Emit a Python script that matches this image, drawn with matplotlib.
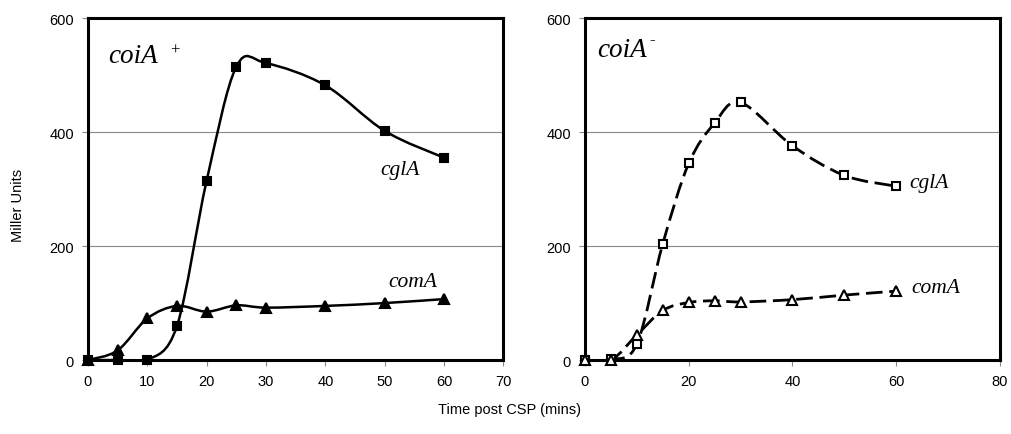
import matplotlib.pyplot as plt
from matplotlib.path import Path
from matplotlib.patches import PathPatch
import numpy as np

# time points (mins)
t = [0, 5, 10, 15, 20, 25, 30, 40, 50, 60]

# coiA+ panel
plus_cgla = [0, 0, 0, 60, 315, 515, 521, 482, 402, 355]
plus_coma = [0, 17, 73, 95, 85, 96, 92, 95, 100, 107]

# coiA- panel
minus_cgla = [0, 1, 28, 204, 345, 416, 452, 376, 324, 305]
minus_coma = [0, 0, 44, 87, 101, 104, 102, 106, 114, 121]

plt.rcParams['font.family'] = ['Liberation Sans', 'DejaVu Sans']
serif = ['Liberation Serif', 'DejaVu Serif']


def smooth_path(x, y):
    # Excel-like smoothed line: cubic bezier through the points
    p = np.column_stack([x, y]).astype(float)
    n = len(p)
    verts = [p[0]]
    codes = [Path.MOVETO]
    for i in range(n - 1):
        p0 = p[i - 1] if i > 0 else p[i]
        p3 = p[i + 2] if i + 2 < n else p[i + 1]
        c1 = p[i] + (p[i + 1] - p0) / 6
        c2 = p[i + 1] - (p3 - p[i]) / 6
        verts += [c1, c2, p[i + 1]]
        codes += [Path.CURVE4] * 3
    return Path(verts, codes)


def draw(ax, x, y, marker, filled, ls, lw):
    patch = PathPatch(smooth_path(x, y), fill=False, edgecolor='black',
                      linewidth=lw, linestyle=ls, zorder=3)
    ax.add_patch(patch)
    ax.plot(x, y, linestyle='none', marker=marker,
            markersize=6 if marker == 's' else 6.5,
            markerfacecolor='black' if filled else 'white',
            markeredgecolor='black', markeredgewidth=1.5,
            clip_on=False, zorder=4)


def style(ax, xmax, xstep):
    ax.set_xlim(0, xmax)
    ax.set_ylim(0, 600)
    ax.set_xticks(np.arange(0, xmax + 1, xstep))
    ax.set_yticks([0, 200, 400, 600])
    ax.yaxis.grid(True, color='#888888', linewidth=0.8)
    ax.set_axisbelow(True)
    for s in ax.spines.values():
        s.set_linewidth(2.2)
        s.set_color('black')
        s.set_zorder(3.5)
    ax.tick_params(axis='both', direction='out', length=4, width=0.8,
                   color='#888888', labelsize=10.5, pad=6)


fig = plt.figure(figsize=(10.11, 4.35), dpi=100)
ax1 = fig.add_axes([0.087, 0.170, 0.411, 0.786])
ax2 = fig.add_axes([0.5786, 0.170, 0.4105, 0.786])

style(ax1, 70, 10)
style(ax2, 80, 20)

dash = (0, (6.0, 2.4))
draw(ax1, t, plus_cgla, 's', True, '-', 1.8)
draw(ax1, t, plus_coma, '^', True, '-', 1.8)
draw(ax2, t, minus_cgla, 's', False, dash, 2.0)
draw(ax2, t, minus_coma, '^', False, dash, 2.0)

ax1.text(3.4, 523, 'coiA', fontsize=19.5, family=serif, style='italic')
ax1.text(13.8, 545, '+', fontsize=12, family=serif, va='center')
ax1.text(49.2, 326, 'cglA', fontsize=15.5, family=serif, style='italic')
ax1.text(50.6, 130, 'comA', fontsize=15.5, family=serif, style='italic')

ax2.text(2.3, 533, 'coiA', fontsize=19.5, family=serif, style='italic')
ax2.text(12.4, 563, '-', fontsize=12, family=serif, va='center')
ax2.text(62.6, 303, 'cglA', fontsize=15.5, family=serif, style='italic')
ax2.text(63.0, 119, 'comA', fontsize=15.5, family=serif, style='italic')

fig.text(510 / 1011, 1 - 410 / 435, 'Time post CSP (mins)', ha='center',
         va='center', fontsize=10.5)
fig.text(18 / 1011, 1 - 205 / 435, 'Miller Units', ha='center', va='center',
         rotation=90, fontsize=10.5)

fig.savefig('out.png', dpi=100)
